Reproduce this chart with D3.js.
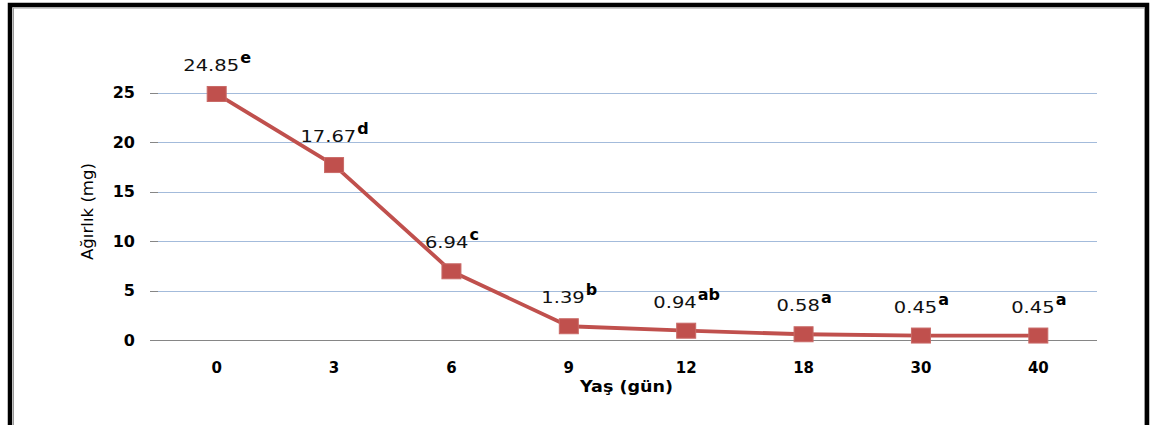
<!DOCTYPE html>
<html>
<head>
<meta charset="utf-8">
<script src="https://cdn.jsdelivr.net/npm/d3@7/dist/d3.min.js"></script>
<style>
  body { margin: 0; background: #fff; }
  svg { display: block; }
</style>
</head>
<body>
<div id="chart"></div>
<script>
// data
var days = ['0', '3', '6', '9', '12', '18', '30', '40'];
var weights = [24.85, 17.67, 6.94, 1.39, 0.94, 0.58, 0.45, 0.45];
var letters = ['e', 'd', 'c', 'b', 'ab', 'a', 'a', 'a'];
var yTicks = [0, 5, 10, 15, 20, 25];

var width = 1153,
    height = 425;

var svg = d3.select('#chart').append('svg')
    .attr('width', width)
    .attr('height', height);

// frame
svg.append('path')
    .attr('d', 'M10,425 V5 H1147 V425')
    .attr('fill', 'none')
    .attr('stroke', '#000')
    .attr('stroke-width', 4.5);
svg.append('path')
    .attr('d', 'M13.5,425 V8 H1144.5 V425')
    .attr('fill', 'none')
    .attr('stroke', '#9a9a9a')
    .attr('stroke-width', 1);

var x = d3.scaleBand().domain(days).range([158, 1097]).padding(0);
var y = d3.scaleLinear().domain([0, 25]).range([340, 92.5]);

// gridlines
svg.append('g')
    .selectAll('line')
    .data(yTicks.filter(function(d) { return d > 0; }))
    .enter().append('line')
    .attr('x1', 158).attr('x2', 1097)
    .attr('y1', function(d) { return Math.round(y(d)) + 0.5; })
    .attr('y2', function(d) { return Math.round(y(d)) + 0.5; })
    .attr('stroke', '#a3bbdb')
    .attr('stroke-width', 1);

// y axis ticks and labels
var yAxis = svg.append('g');
yAxis.selectAll('line')
    .data(yTicks)
    .enter().append('line')
    .attr('x1', 150).attr('x2', 158)
    .attr('y1', function(d) { return Math.round(y(d)) + 0.5; })
    .attr('y2', function(d) { return Math.round(y(d)) + 0.5; })
    .attr('stroke', '#868686');
yAxis.selectAll('text')
    .data(yTicks)
    .enter().append('text')
    .attr('x', 135)
    .attr('y', function(d) { return y(d); })
    .attr('dy', '0.36em')
    .attr('text-anchor', 'end')
    .attr('font-family', 'DejaVu Sans')
    .attr('font-weight', 'bold')
    .attr('font-size', 16)
    .attr('fill', '#000')
    .text(function(d) { return d; });

// zero line
svg.append('line')
    .attr('x1', 150).attr('x2', 1097)
    .attr('y1', Math.round(y(0)) + 0.5).attr('y2', Math.round(y(0)) + 0.5)
    .attr('stroke', '#868686');

// x labels
svg.append('g').selectAll('text')
    .data(days)
    .enter().append('text')
    .attr('x', function(d) { return x(d) + x.bandwidth() / 2; })
    .attr('y', 373)
    .attr('text-anchor', 'middle')
    .attr('font-family', 'DejaVu Sans')
    .attr('font-weight', 'bold')
    .attr('font-size', 15)
    .attr('fill', '#000')
    .text(function(d) { return d; });

// axis titles
svg.append('text')
    .attr('x', 580)
    .attr('y', 392)
    .attr('font-family', 'DejaVu Sans')
    .attr('font-weight', 'bold')
    .attr('font-size', 16)
    .attr('textLength', 93)
    .attr('lengthAdjust', 'spacingAndGlyphs')
    .attr('fill', '#000')
    .text('Yaş (gün)');

svg.append('text')
    .attr('transform', 'translate(93,260) rotate(-90)')
    .attr('font-family', 'DejaVu Sans')
    .attr('font-size', 16)
    .attr('textLength', 97)
    .attr('lengthAdjust', 'spacingAndGlyphs')
    .attr('fill', '#000')
    .text('Ağırlık (mg)');

// line
var pts = days.map(function(d, i) { return {day: d, v: weights[i], l: letters[i]}; });
var line = d3.line()
    .x(function(d) { return x(d.day) + x.bandwidth() / 2; })
    .y(function(d) { return y(d.v); });

svg.append('path')
    .datum(pts)
    .attr('d', line)
    .attr('fill', 'none')
    .attr('stroke', '#c0504d')
    .attr('stroke-width', 3.8)
    .attr('stroke-linejoin', 'round');

svg.selectAll('.dot')
    .data(pts)
    .enter().append('rect')
    .attr('class', 'dot')
    .attr('x', function(d) { return x(d.day) + x.bandwidth() / 2 - 9.5; })
    .attr('y', function(d) { return y(d.v) - 7.5; })
    .attr('width', 19)
    .attr('height', 15)
    .attr('fill', '#c0504d')
    .attr('stroke', '#c96a67')
    .attr('stroke-width', 1);

// data labels with superscript letters
var labels = svg.selectAll('.lbl')
    .data(pts)
    .enter().append('g')
    .attr('class', 'lbl');

labels.each(function(d) {
    var g = d3.select(this);
    var cx = x(d.day) + x.bandwidth() / 2,
        by = y(d.v) - 23;
    var num = g.append('text')
        .attr('font-family', 'DejaVu Sans')
        .attr('font-size', 15)
        .attr('fill', '#111')
        .text(d.v.toFixed(2));
    var sup = g.append('text')
        .attr('font-family', 'DejaVu Sans')
        .attr('font-weight', 'bold')
        .attr('font-size', 16)
        .attr('fill', '#000')
        .text(d.l);
    var sx = 1.3;
    var w1 = num.node().getComputedTextLength() * sx,
        w2 = sup.node().getComputedTextLength();
    var left = cx - (w1 + w2) / 2;
    num.attr('transform', 'translate(' + left + ',' + by + ') scale(' + sx + ',1)');
    sup.attr('x', left + w1 + 1).attr('y', by - 8);
});
</script>
</body>
</html>
